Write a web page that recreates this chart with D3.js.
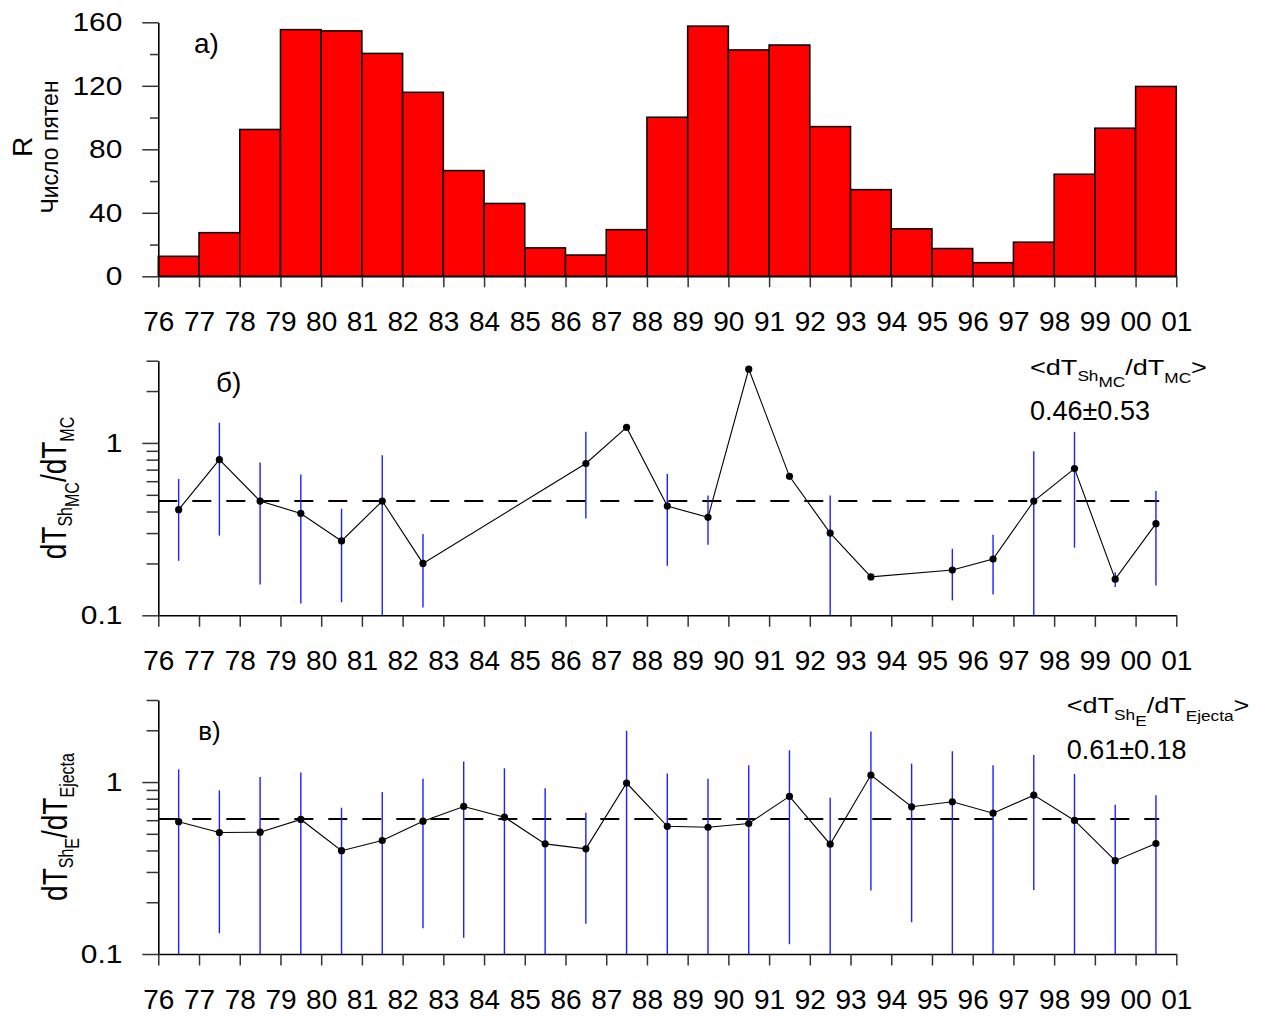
<!DOCTYPE html>
<html>
<head>
<meta charset="utf-8">
<script src="https://cdn.jsdelivr.net/npm/d3@7"></script>
<style>
  body { margin: 0; background: #fff; }
  svg { display: block; }
</style>
</head>
<body>
<svg id="chart" width="1269" height="1017"></svg>
<script>
// ---- data ----
const tickYears = [1976,1977,1978,1979,1980,1981,1982,1983,1984,1985,1986,1987,1988,
                   1989,1990,1991,1992,1993,1994,1995,1996,1997,1998,1999,2000,2001];
const yearLabels = ["76","77","78","79","80","81","82","83","84","85","86","87","88",
                    "89","90","91","92","93","94","95","96","97","98","99","00","01"];

// yearly sunspot number R
const sunYears = [1976,1977,1978,1979,1980,1981,1982,1983,1984,1985,1986,1987,1988,
                  1989,1990,1991,1992,1993,1994,1995,1996,1997,1998,1999,2000];
const sunspotR = [12.6,27.5,92.5,155.4,154.6,140.4,115.9,66.6,45.9,17.9,13.4,29.4,100.2,
                  157.6,142.6,145.7,94.3,54.6,29.9,17.5,8.6,21.5,64.3,93.3,119.6];
const rTicksMajor = [0, 40, 80, 120, 160];
const rTicksMinor = [20, 60, 100, 140];

// dT_ShMC / dT_MC per year (null = no error bar)
const mcYears = [1976,1977,1978,1979,1980,1981,1982,1986,1987,1988,1989,1990,1991,
                 1992,1993,1995,1996,1997,1998,1999,2000];
const mcRatio = [0.41,0.80,0.46,0.39,0.27,0.46,0.20,0.76,1.23,0.43,0.37,2.68,0.64,
                 0.30,0.167,0.183,0.212,0.46,0.71,0.162,0.34];
const mcLow   = [0.207,0.29,0.151,0.117,0.119,0.1,0.111,0.364,null,0.194,0.257,null,null,
                 0.1,null,0.122,0.132,0.1,0.247,0.146,0.149];
const mcHigh  = [0.618,1.31,0.771,0.656,0.415,0.847,0.296,1.16,null,0.66,0.496,null,null,
                 0.496,null,0.243,0.293,0.894,1.16,0.178,0.526];
const mcMean = 0.46, mcSpread = 0.53;

// dT_ShE / dT_Ejecta per year
const ejYears = [1976,1977,1978,1979,1980,1981,1982,1983,1984,1985,1986,1987,1988,
                 1989,1990,1991,1992,1993,1994,1995,1996,1997,1998,1999,2000];
const ejRatio = [0.588,0.509,0.511,0.606,0.399,0.457,0.592,0.721,0.625,0.437,0.409,0.987,0.553,
                 0.546,0.574,0.825,0.435,1.099,0.718,0.768,0.659,0.839,0.598,0.349,0.439];
const ejLow   = [0.1,0.132,0.1,0.1,0.1,0.1,0.141,0.1245,0.1,0.1,0.150,0.1,0.1,
                 0.1,0.1,0.114,0.1,0.234,0.153,0.1,0.1,0.2355,0.1,0.1,0.1];
const ejHigh  = [1.186,0.894,1.07,1.135,0.709,0.875,1.046,1.315,1.202,0.919,0.663,1.985,1.12,
                 1.046,1.252,1.531,0.811,1.968,1.28,1.51,1.252,1.438,1.114,0.738,0.839];
const ejMean = 0.61, ejSpread = 0.18;

const logMajor = [0.1, 1];
const logMajorLabels = ["0.1", "1"];
const logMinor = [0.2,0.3,0.4,0.5,0.6,0.7,0.8,0.9,2,3];

// ---- layout ----
const FONT = '"Liberation Sans", Arial, Helvetica, sans-serif';
const svg = d3.select("#chart").attr("font-family", FONT);
const x = d3.scaleLinear().domain([1976, 2001]).range([158.3, 1176.3]);
const meanLineEnd = 2000.58;

function styleAxis(g) {
  g.attr("font-family", FONT);
  g.select(".domain").attr("stroke", "#000").attr("stroke-width", 1.6);
  g.selectAll(".tick line").attr("stroke", "#333").attr("stroke-width", 1.5);
  g.selectAll(".tick text").attr("fill", "#000");
}

function drawXAxis(y0, tick) {
  const g = svg.append("g").attr("transform", `translate(0,${y0})`)
    .call(d3.axisBottom(x).tickValues(tickYears)
      .tickFormat((d, i) => yearLabels[i]).tickSize(tick).tickSizeOuter(0));
  styleAxis(g);
  g.attr("font-size", 28);
  g.selectAll(".tick text").attr("y", 55).attr("dy", null);
}

function drawYAxis(y, major, labels, minor, minorLen) {
  const gm = svg.append("g").attr("transform", `translate(${x.range()[0]},0)`)
    .call(d3.axisLeft(y).tickValues(minor).tickFormat(() => "").tickSize(minorLen).tickSizeOuter(0));
  styleAxis(gm);
  gm.select(".domain").remove();
  const g = svg.append("g").attr("transform", `translate(${x.range()[0]},0)`)
    .call(d3.axisLeft(y).tickValues(major).tickFormat((d, i) => labels[i]).tickSize(16).tickSizeOuter(0));
  styleAxis(g);
  g.attr("font-size", 26);
  const sx = 1.15;
  g.selectAll(".tick text").attr("x", -36 / sx).attr("transform", `scale(${sx},1)`);
}

// ---- panel a: sunspot histogram ----
const yA = d3.scaleLinear().domain([0, 160]).range([276.3, 22.3]);

svg.append("g").selectAll("rect").data(sunspotR).join("rect")
  .attr("x", (d, i) => x(sunYears[i]))
  .attr("width", (d, i) => x(sunYears[i] + 1) - x(sunYears[i]))
  .attr("y", d => yA(d))
  .attr("height", d => yA(0) - yA(d))
  .attr("fill", "#ff0000")
  .attr("stroke", "#000")
  .attr("stroke-width", 1.5);

drawYAxis(yA, rTicksMajor, rTicksMajor.map(String), rTicksMinor, 8.3);
drawXAxis(yA(0), 11);

svg.append("text").attr("transform", "translate(31.7,147) rotate(-90)")
  .attr("text-anchor", "middle").attr("font-size", 28).text("R");
svg.append("text").attr("transform", "translate(58,147) rotate(-90)")
  .attr("text-anchor", "middle").attr("font-size", 23).text("Число пятен");
svg.append("text").attr("x", 194).attr("y", 52.7).attr("font-size", 28).text("а)");

// ---- ratio panels ----
function ratioPanel(cfg) {
  const y = d3.scaleLog().domain([0.1, 3]).range([cfg.bottom, cfg.top]);

  // mean level
  svg.append("line")
    .attr("x1", x(1976)).attr("x2", x(meanLineEnd))
    .attr("y1", y(cfg.mean)).attr("y2", y(cfg.mean))
    .attr("stroke", "#000").attr("stroke-width", 2)
    .attr("stroke-dasharray", "19,15");

  const pts = cfg.years.map((yr, i) => ({
    t: yr + 0.5, v: cfg.ratio[i], lo: cfg.low[i], hi: cfg.high[i]
  }));

  svg.append("g").selectAll("line").data(pts.filter(p => p.lo != null)).join("line")
    .attr("x1", p => x(p.t)).attr("x2", p => x(p.t))
    .attr("y1", p => y(Math.max(p.lo, 0.1))).attr("y2", p => y(p.hi))
    .attr("stroke", "#1f1fff").attr("stroke-width", 1.4);

  svg.append("path").datum(pts)
    .attr("d", d3.line().x(p => x(p.t)).y(p => y(p.v)))
    .attr("fill", "none").attr("stroke", "#000").attr("stroke-width", 1.1);

  svg.append("g").selectAll("circle").data(pts).join("circle")
    .attr("cx", p => x(p.t)).attr("cy", p => y(p.v)).attr("r", 3.6)
    .attr("fill", "#000");

  drawYAxis(y, logMajor, logMajorLabels, logMinor, 11.7);
  drawXAxis(cfg.bottom, 11.5);

  // rotated axis title
  const t = svg.append("text")
    .attr("transform", `translate(${cfg.titleX},${(cfg.top + cfg.bottom) / 2}) rotate(-90) scale(1,1.25)`)
    .attr("text-anchor", "middle").attr("font-size", 28);
  cfg.title.forEach(s => t.append("tspan").attr("font-size", s.size).attr("dy", s.dy).text(s.text));

  // mean annotation
  const a = svg.append("text")
    .attr("transform", `translate(${cfg.noteX},${cfg.noteY}) scale(1.23,1)`)
    .attr("font-size", 22);
  cfg.note.forEach(s => a.append("tspan").attr("font-size", s.size).attr("dy", s.dy).text(s.text));
  svg.append("text").attr("x", cfg.noteX).attr("y", cfg.noteY + 45.5)
    .attr("font-size", 27).text(`${cfg.mean.toFixed(2)}±${cfg.spread.toFixed(2)}`);

  svg.append("text").attr("x", cfg.letterX).attr("y", cfg.letterY)
    .attr("font-size", cfg.letterSize).text(cfg.letter);
}

ratioPanel({
  top: 360.7, bottom: 615.3, mean: mcMean, spread: mcSpread,
  years: mcYears, ratio: mcRatio, low: mcLow, high: mcHigh,
  titleX: 66,
  title: [
    { text: "dT", size: 28, dy: 0 },
    { text: "Sh", size: 16, dy: 5 },
    { text: "MC", size: 16, dy: 5 },
    { text: "/dT", size: 28, dy: -10 },
    { text: "MC", size: 16, dy: 6 }
  ],
  noteX: 1030, noteY: 374.5,
  note: [
    { text: "<dT", size: 22, dy: 0 },
    { text: "Sh", size: 14, dy: 6 },
    { text: "MC", size: 14, dy: 6 },
    { text: "/dT", size: 22, dy: -12 },
    { text: "MC", size: 14, dy: 8 },
    { text: ">", size: 22, dy: -8 }
  ],
  letter: "б)", letterX: 216, letterY: 391.7, letterSize: 28
});

ratioPanel({
  top: 700, bottom: 954, mean: ejMean, spread: ejSpread,
  years: ejYears, ratio: ejRatio, low: ejLow, high: ejHigh,
  titleX: 66.5,
  title: [
    { text: "dT", size: 28, dy: 0 },
    { text: "Sh", size: 16, dy: 5 },
    { text: "E", size: 16, dy: 5 },
    { text: "/dT", size: 28, dy: -10 },
    { text: "Ejecta", size: 16, dy: 6 }
  ],
  noteX: 1066.7, noteY: 713.3,
  note: [
    { text: "<dT", size: 22, dy: 0 },
    { text: "Sh", size: 14, dy: 7 },
    { text: "E", size: 14, dy: 6 },
    { text: "/dT", size: 22, dy: -13 },
    { text: "Ejecta", size: 14, dy: 8 },
    { text: ">", size: 22, dy: -8 }
  ],
  letter: "в)", letterX: 198.3, letterY: 740, letterSize: 26
});
</script>
</body>
</html>
